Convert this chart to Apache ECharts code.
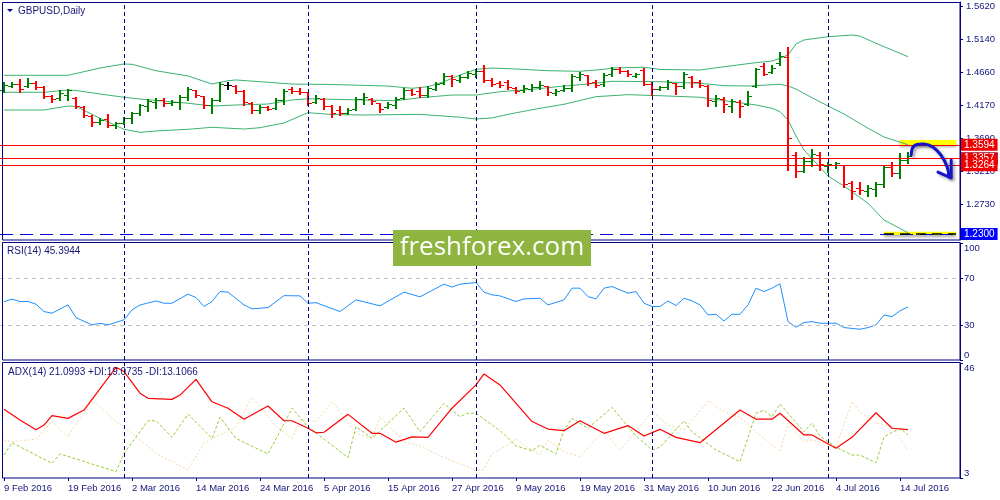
<!DOCTYPE html>
<html><head><meta charset="utf-8">
<script src="https://cdn.jsdelivr.net/npm/echarts@6/dist/echarts.min.js"></script>
<style>html,body{margin:0;padding:0;background:#fff}#c{width:1000px;height:500px}</style>
</head><body><div id="c"></div>
<script>
// ---------- categories (trading days) ----------
const febDays = [9,10,11,12,15,16,17,18,19,22,23,24,25,26,29];
const marDays = [1,2,3,4,7,8,9,10,11,14,15,16,17,18,21,22,23,24,25,28,29,30,31];
const aprDays = [1,4,5,6,7,8,11,12,13,14,15,18,19,20,21,22,25,26,27,28,29];
const mayDays = [2,3,4,5,6,9,10,11,12,13,16,17,18,19,20,23,24,25,26,27,30,31];
const junDays = [1,2,3,6,7,8,9,10,13,14,15,16,17,20,21,22,23,24,27,28,29,30];
const julDays = [1,4,5,6,7,8,11,12,13,14,15];
const monthList = [['Feb',febDays],['Mar',marDays],['Apr',aprDays],['May',mayDays],['Jun',junDays],['Jul',julDays]];
const padSlots = ['p1','p2','p3','p4','p5','p6'];

// ---------- price bars ----------
const open = [1.4397,1.4455,1.4484,1.4455,1.4499,1.4441,1.4310,1.4281,1.4324,1.4281,
1.4150,1.4019,1.3931,1.3975,1.3888,1.3917,1.3990,1.4062,1.4164,1.4222,
1.4252,1.4208,1.4222,1.4295,1.4397,1.4310,1.4179,1.4252,1.4470,1.4455,
1.4383,1.4208,1.4106,1.4150,1.4135,1.4252,1.4412,1.4383,1.4368,1.4222,
1.4266,1.4164,1.4106,1.4062,1.4121,1.4266,1.4266,1.4208,1.4150,1.4179,
1.4281,1.4397,1.4383,1.4324,1.4412,1.4499,1.4601,1.4543,1.4586,1.4630,
1.4674,1.4543,1.4499,1.4514,1.4426,1.4397,1.4412,1.4441,1.4455,1.4353,
1.4397,1.4426,1.4586,1.4615,1.4514,1.4484,1.4630,1.4703,1.4674,1.4601,
1.4688,1.4484,1.4412,1.4441,1.4499,1.4455,1.4586,1.4514,1.4455,1.4237,
1.4266,1.4164,1.4222,1.4193,1.4455,1.4747,1.4659,1.4790,1.4878,1.3451,
1.3218,1.3363,1.3451,1.3291,1.3305,1.3305,1.3043,1.2970,1.2927,1.2956,
1.3029,1.3276,1.3189,1.3378];
const high = [1.4514,1.4514,1.4557,1.4572,1.4528,1.4455,1.4324,1.4397,1.4412,1.4295,
1.4164,1.4033,1.3990,1.4048,1.3931,1.4004,1.4077,1.4193,1.4266,1.4281,
1.4281,1.4252,1.4324,1.4441,1.4400,1.4315,1.4281,1.4514,1.4514,1.4470,
1.4397,1.4222,1.4179,1.4164,1.4281,1.4412,1.4441,1.4426,1.4375,1.4324,
1.4281,1.4179,1.4164,1.4135,1.4295,1.4353,1.4281,1.4215,1.4222,1.4295,
1.4426,1.4412,1.4441,1.4455,1.4514,1.4645,1.4615,1.4615,1.4674,1.4703,
1.4761,1.4572,1.4528,1.4543,1.4441,1.4470,1.4484,1.4528,1.4462,1.4412,
1.4470,1.4630,1.4659,1.4622,1.4543,1.4645,1.4732,1.4732,1.4688,1.4645,
1.4717,1.4514,1.4455,1.4543,1.4506,1.4659,1.4601,1.4543,1.4470,1.4324,
1.4295,1.4266,1.4252,1.4383,1.4717,1.4790,1.4761,1.4950,1.5023,1.3495,
1.3422,1.3538,1.3495,1.3349,1.3349,1.3312,1.3072,1.3058,1.3014,1.3058,
1.3305,1.3349,1.3480,1.3495];
const low = [1.4368,1.4441,1.4368,1.4441,1.4412,1.4281,1.4222,1.4252,1.4252,1.4135,
1.4004,1.3873,1.3902,1.3858,1.3844,1.3902,1.3917,1.4033,1.4091,1.4135,
1.4164,1.4179,1.4121,1.4252,1.4295,1.4135,1.4062,1.4237,1.4412,1.4353,
1.4179,1.4062,1.4062,1.4106,1.4121,1.4193,1.4353,1.4339,1.4179,1.4208,
1.4121,1.4004,1.4033,1.4048,1.4106,1.4193,1.4193,1.4077,1.4135,1.4135,
1.4266,1.4324,1.4295,1.4295,1.4397,1.4484,1.4455,1.4514,1.4572,1.4586,
1.4514,1.4455,1.4441,1.4412,1.4353,1.4368,1.4383,1.4412,1.4324,1.4324,
1.4383,1.4383,1.4543,1.4470,1.4441,1.4455,1.4601,1.4645,1.4601,1.4586,
1.4470,1.4324,1.4397,1.4412,1.4339,1.4426,1.4441,1.4441,1.4164,1.4164,
1.4077,1.4077,1.4004,1.4179,1.4441,1.4615,1.4645,1.4761,1.3232,1.3131,
1.3203,1.3291,1.3232,1.3203,1.3262,1.2985,1.2810,1.2883,1.2854,1.2854,
1.2985,1.3145,1.3116,1.3334];
const close = [1.4470,1.4484,1.4412,1.4499,1.4441,1.4310,1.4266,1.4353,1.4397,1.4164,
1.4033,1.3931,1.3960,1.3888,1.3917,1.3990,1.4062,1.4179,1.4237,1.4252,
1.4208,1.4222,1.4295,1.4412,1.4324,1.4179,1.4252,1.4484,1.4470,1.4383,
1.4222,1.4106,1.4150,1.4121,1.4252,1.4383,1.4383,1.4368,1.4208,1.4281,
1.4164,1.4062,1.4062,1.4106,1.4266,1.4295,1.4237,1.4121,1.4193,1.4266,
1.4397,1.4339,1.4324,1.4426,1.4484,1.4601,1.4557,1.4586,1.4645,1.4674,
1.4543,1.4484,1.4470,1.4441,1.4383,1.4426,1.4441,1.4470,1.4368,1.4383,
1.4426,1.4601,1.4630,1.4499,1.4470,1.4615,1.4703,1.4674,1.4630,1.4630,
1.4484,1.4412,1.4441,1.4514,1.4455,1.4630,1.4514,1.4470,1.4252,1.4281,
1.4193,1.4237,1.4164,1.4310,1.4703,1.4630,1.4717,1.4892,1.3698,1.3218,
1.3363,1.3465,1.3320,1.3320,1.3334,1.3029,1.2927,1.2941,1.2970,1.3029,
1.3276,1.3189,1.3378,1.3437];

// ---------- Bollinger bands [barIndex, price] ----------
const bbUpper = [[0,1.4611],[8,1.4611],[12,1.4717],[15,1.4776],[16,1.4771],[19,1.4678],[23,1.4601],[26,1.4484],[28,1.4532],[29,1.4543],[36,1.4484],[41,1.4477],[48,1.4455],[51,1.4422],[53,1.4445],[55,1.4518],[57,1.4615],[59,1.4698],[61,1.4717],[64,1.4703],[68,1.4678],[72,1.4669],[75,1.4698],[76,1.4717],[80,1.4728],[82,1.4696],[87,1.4688],[90,1.4736],[94,1.4795],[96,1.4819],[97,1.4859],[98,1.4907],[99,1.5067],[100,1.5125],[103,1.5173],[106,1.5198],[107,1.5183],[109,1.5077],[113,1.4882]];
const bbMiddle = [[0,1.4364],[5,1.4364],[8,1.4397],[9,1.4390],[12,1.4339],[15,1.4291],[17,1.4266],[23,1.4204],[26,1.4164],[29,1.4179],[33,1.4193],[36,1.4252],[38,1.4270],[41,1.4262],[49,1.4241],[52,1.4285],[56,1.4324],[59,1.4324],[62,1.4372],[66,1.4407],[70,1.4455],[73,1.4484],[76,1.4524],[82,1.4518],[87,1.4495],[90,1.4460],[93,1.4455],[97,1.4480],[98,1.4455],[99,1.4412],[100,1.4346],[103,1.4164],[105,1.4048],[108,1.3840],[110,1.3713],[113,1.3600]];
const bbLower = [[0,1.4106],[5,1.4106],[8,1.4164],[9,1.4157],[12,1.3985],[15,1.3825],[17,1.3781],[19,1.3800],[23,1.3825],[26,1.3854],[30,1.3829],[32,1.3848],[35,1.3917],[38,1.4067],[41,1.4040],[45,1.4033],[52,1.4043],[57,1.4000],[59,1.3975],[61,1.3990],[63,1.4043],[67,1.4131],[70,1.4189],[74,1.4300],[78,1.4329],[82,1.4314],[87,1.4291],[94,1.4179],[96,1.4131],[97,1.4081],[98,1.3960],[99,1.3727],[100,1.3524],[103,1.3145],[105,1.2999],[108,1.2748],[110,1.2505],[113,1.2320]];

// ---------- RSI(14) ----------
const rsi = [[0,49.9],[1,52],[2,50],[3,50],[4,47.7],[5,41.4],[6,40],[8,47.1],[9,36.2],[11,30],[12,31.4],[13,30],[15,34.3],[16,42.8],[17,47],[19,50.5],[20,48.5],[21,48.5],[23,56.3],[24,53.4],[25,45.7],[26,50],[27,58.5],[28,58],[30,47.1],[31,43.7],[33,44.8],[35,55],[37,54.8],[38,48.5],[39,49],[42,41.4],[44,51.4],[47,46.3],[50,58],[52,54],[55,64.8],[56,62.3],[57,64.8],[59,66.2],[60,58],[61,55.7],[62,54.8],[64,50],[65,52.2],[67,52.8],[68,47.1],[70,51.4],[71,61.4],[72,61.4],[73,54.2],[74,52.2],[75,61.4],[76,62.8],[78,57.1],[79,58.5],[80,48.5],[81,45.7],[82,45.7],[83,50.5],[84,46.5],[85,52.8],[86,50.5],[87,47.1],[88,38.5],[89,39.1],[90,33.4],[91,39.1],[92,39.1],[93,47.1],[94,61.4],[95,58.5],[96,61.4],[97,65.1],[98,32.8],[99,28],[100,32],[101,32.8],[102,31.4],[104,31.4],[105,27.7],[107,26.3],[108,27.7],[109,30],[110,38.5],[111,37.1],[112,42],[113,45.4]];
const rsiLevels = [70, 30];

// ---------- ADX(14) ----------
const adx = [[0,28.7],[2,24.7],[4,21],[5,22.8],[6,26.3],[8,25.3],[10,28.4],[14,44.4],[15,42.8],[17,34.7],[18,32.8],[21,32.4],[22,34],[24,39.9],[26,31.5],[28,29.1],[30,25],[33,29.9],[35,24.4],[36,24.4],[38,21.6],[39,19.9],[40,20.1],[43,26.8],[46,19.7],[47,19.7],[49,16.4],[51,18.4],[53,18.2],[56,29.1],[59,37.8],[60,41.9],[62,37.8],[66,24.1],[68,21.3],[70,20.7],[72,24.4],[75,19.7],[78,22.6],[80,18.7],[82,21.2],[84,18.2],[87,16.2],[92,28.4],[94,25],[96,25],[97,27.2],[100,19.1],[101,19.1],[104,14.1],[106,18.2],[109,27.4],[111,21.6],[113,21.1]];
const plusDI = [[0,11.6],[1,16.2],[6,8.5],[7,12],[14,5.4],[15,12.2],[18,24.4],[19,24.4],[21,18.2],[23,26.9],[26,17.8],[27,25.7],[29,17.8],[33,12],[36,29.1],[38,22.2],[43,10.6],[44,22.2],[46,17.8],[50,29.1],[52,20.3],[55,30.9],[57,25.9],[58,27.2],[59,27.2],[62,20.7],[64,15],[66,13.2],[67,15.3],[69,12],[70,20.9],[71,25.3],[73,21.6],[76,29.4],[79,18.7],[81,13.5],[82,14.5],[85,24.4],[86,20.3],[89,13.5],[92,9.1],[94,27.2],[95,28.4],[96,25.9],[97,30.7],[100,20.3],[101,23.5],[102,18.7],[104,14.5],[106,11.6],[107,11.6],[109,8.7],[110,18.4],[112,21.6],[113,19.1]];
const minusDI = [[0,17.2],[1,16.6],[4,17.5],[6,24.1],[8,18.4],[11,32.2],[14,24.1],[15,22.2],[19,12.2],[23,6],[25,16],[29,22.2],[31,33.2],[32,29.7],[34,22.2],[36,17.8],[37,24.7],[39,24.1],[41,31.5],[44,19.7],[46,17.8],[47,25.9],[50,16.6],[52,15],[55,10.6],[59,6],[60,6],[61,12.2],[62,13.5],[64,17.5],[65,15.3],[67,11.6],[68,17.2],[70,12.8],[72,11],[75,20.9],[77,13.2],[81,27.8],[83,22.8],[85,20.9],[88,31.9],[90,27.8],[92,25.7],[94,20.3],[97,12.8],[98,23.5],[100,16.6],[101,17.2],[104,14.7],[106,31.5],[107,27.8],[109,23.5],[111,22.2],[113,13.2]];

// ---------- axis ticks / levels / texts ----------
const priceTicks = [1.5620,1.5140,1.4660,1.4170,1.3690,1.3210,1.2730,1.2250];
const rsiTicks = [0,30,70,100];
const adxTicks = [3,46];
const priceRange = [1.22134, 1.56782];
const levelValues = [1.3594, 1.3437, 1.3357, 1.3264, 1.2300];
const highlightBands = [[112,1.3669,1.3596],[110,1.2334,1.2286]];
const arrowPath = [[113.4,1.3451],[113.75,1.3582],[115,1.3611],[116.1,1.3567],[117.1,1.3451],[117.9,1.3276],[118.1,1.3131]];
const arrowHead = [[116.75,1.3203],[118.4,1.3116],[118.4,1.3378]];
const titleText = 'GBPUSD,Daily';
const rsiText = 'RSI(14) 45.3944';
const adxText = 'ADX(14) 21.0993 +DI:19.0735 -DI:13.1066';
const watermarkText = 'freshforex.com';

// ---------- build ----------
const dates = [];
monthList.forEach(([m, days]) => days.forEach(d => dates.push(d + ' ' + m + ' 2016')));
const categories = dates.concat(padSlots);
const monthStartIdx = [];
let acc = 0;
monthList.forEach(([m, days], k) => { if (k > 0) monthStartIdx.push(acc); acc += days.length; });
const ohlc = dates.map((d, i) => [i, open[i], high[i], low[i], close[i]]);
const lastIdx = categories.length - 1;

const NAVY = '#000080';
const TXT = '#15157a';
const FONT = 'Liberation Sans';
const FS = 9.5;

const separators = {
  symbol: ['none','none'], silent: true, animation: false,
  label: {show: false},
  lineStyle: {color: NAVY, type: [4,3], width: 1},
  data: monthStartIdx.map(i => ({xAxis: i}))
};

const levelStyles = [
  {line: '#ff0000', type: 'solid', bg: '#ee0000'},
  {line: '#d0d0d0', type: 'solid', bg: NAVY},
  {line: '#ff0000', type: 'solid', bg: '#ee0000'},
  {line: '#ff0000', type: 'solid', bg: '#ee0000'},
  {line: '#0000e0', type: [13,7], bg: '#0000ff'}
];

function ohlcItem(params, api) {
  const i = api.value(0);
  const o = api.value(1), h = api.value(2), l = api.value(3), c = api.value(4);
  const ph = api.coord([i, h]), pl = api.coord([i, l]), po = api.coord([i, o]), pc = api.coord([i, c]);
  const x = Math.round(ph[0]);
  const color = c > o ? '#008000' : (c < o ? '#ff0000' : '#000000');
  const yo = Math.round(po[1]) + 0.5, yc = Math.round(pc[1]) + 0.5;
  return {type: 'group', children: [
    {type: 'line', shape: {x1: x, y1: Math.round(ph[1]), x2: x, y2: Math.round(pl[1]) + 1}, style: {stroke: color, lineWidth: 2}},
    {type: 'line', shape: {x1: x - 4, y1: yo, x2: x, y2: yo}, style: {stroke: color, lineWidth: 1}},
    {type: 'line', shape: {x1: x, y1: yc, x2: x + 4, y2: yc}, style: {stroke: color, lineWidth: 1}}
  ]};
}

const chart = echarts.init(document.getElementById('c'));
const axisText = {color: TXT, fontSize: FS, fontFamily: FONT};

const option = {
  animation: false,
  backgroundColor: '#ffffff',
  grid: [
    {left: -1, width: 961, top: 2, height: 238},
    {left: -1, width: 961, top: 243, height: 117},
    {left: -1, width: 961, top: 363, height: 115}
  ],
  xAxis: [0,1,2].map(g => ({
    type: 'category', gridIndex: g, data: categories, boundaryGap: true,
    axisLine: {show: false},
    axisTick: {show: g === 2, interval: 7, alignWithLabel: true, length: 3, lineStyle: {color: NAVY}},
    axisLabel: Object.assign({show: g === 2, interval: 7, align: 'left', margin: 5}, axisText),
    splitLine: {show: false}
  })),
  yAxis: [
    {type: 'value', gridIndex: 0, position: 'right', min: priceRange[0], max: priceRange[1],
     axisLine: {show: true, lineStyle: {color: NAVY}},
     axisTick: {show: true, customValues: priceTicks, length: 3, lineStyle: {color: NAVY}},
     axisLabel: Object.assign({customValues: priceTicks, margin: 6, formatter: v => Number(v).toFixed(4)}, axisText),
     splitLine: {show: false}},
    {type: 'value', gridIndex: 1, position: 'right', min: 0, max: 100,
     axisLine: {show: true, lineStyle: {color: NAVY}},
     axisTick: {show: true, customValues: rsiTicks, length: 3, lineStyle: {color: NAVY}},
     axisLabel: Object.assign({customValues: rsiTicks, margin: 4, verticalAlignMinLabel: 'bottom', verticalAlignMaxLabel: 'top'}, axisText),
     splitLine: {show: false}},
    {type: 'value', gridIndex: 2, position: 'right', min: adxTicks[0], max: adxTicks[1],
     axisLine: {show: true, lineStyle: {color: NAVY}},
     axisTick: {show: true, customValues: adxTicks, length: 3, lineStyle: {color: NAVY}},
     axisLabel: Object.assign({customValues: adxTicks, margin: 4, verticalAlignMinLabel: 'bottom', verticalAlignMaxLabel: 'top'}, axisText),
     splitLine: {show: false}}
  ],
  series: [
    {type: 'line', xAxisIndex: 0, yAxisIndex: 0, data: bbLower, symbol: 'none', z: 2,
     lineStyle: {color: '#3cb371', width: 1}, markLine: separators},
    {type: 'line', xAxisIndex: 0, yAxisIndex: 0, data: bbMiddle, symbol: 'none', z: 2,
     lineStyle: {color: '#3cb371', width: 1},
     markArea: {silent: true, itemStyle: {color: '#ffff00', shadowColor: 'rgba(0,0,0,0.35)', shadowBlur: 3, shadowOffsetY: 2},
       data: highlightBands.map(b => [{xAxis: b[0], yAxis: b[1]}, {xAxis: lastIdx, yAxis: b[2]}])}},
    {type: 'line', xAxisIndex: 0, yAxisIndex: 0, data: bbUpper, symbol: 'none', z: 2,
     lineStyle: {color: '#3cb371', width: 1}},
    {type: 'custom', xAxisIndex: 0, yAxisIndex: 0, data: ohlc, renderItem: ohlcItem, z: 3,
     encode: {x: 0, y: [1,2,3,4]}},
    {type: 'line', xAxisIndex: 0, yAxisIndex: 0, data: [], symbol: 'none', z: 5,
     markLine: {symbol: ['none','none'], silent: true, animation: false,
       data: levelValues.map((v, k) => ({
         yAxis: v,
         lineStyle: {color: levelStyles[k].line, type: levelStyles[k].type, width: 1},
         label: {show: true, position: 'end', distance: 1, formatter: () => v.toFixed(4),
           color: '#ffffff', backgroundColor: levelStyles[k].bg, padding: [1,3,0,3],
           fontSize: FS + 0.5, lineHeight: 11, fontFamily: FONT}
       })).concat([[{xAxis: highlightBands[1][0], yAxis: levelValues[4], lineStyle: {color: '#000000', type: [10,6], width: 1.5}, label: {show: false}},
                    {xAxis: lastIdx, yAxis: levelValues[4]}]])}},
    {type: 'line', xAxisIndex: 1, yAxisIndex: 1, data: rsi, symbol: 'none', z: 3,
     lineStyle: {color: '#1e90ff', width: 1},
     markLine: {symbol: ['none','none'], silent: true, animation: false, label: {show: false},
       data: rsiLevels.map(v => ({yAxis: v, lineStyle: {color: '#c0c0c0', type: [4,4], width: 1}}))
         .concat(monthStartIdx.map(i => ({xAxis: i, lineStyle: {color: NAVY, type: [4,3], width: 1}})))}},
    {type: 'line', xAxisIndex: 2, yAxisIndex: 2, data: minusDI, symbol: 'none', z: 2,
     lineStyle: {color: '#f7d7a6', width: 1, type: [2,2]}, markLine: separators},
    {type: 'line', xAxisIndex: 2, yAxisIndex: 2, data: plusDI, symbol: 'none', z: 2,
     lineStyle: {color: '#9acd32', width: 1, type: [3,2]}},
    {type: 'line', xAxisIndex: 2, yAxisIndex: 2, data: adx, symbol: 'none', z: 3,
     lineStyle: {color: '#ff0000', width: 1.2}}
  ]
};
chart.setOption(option);

function toPx(ix, price) {
  const a = chart.convertToPixel({xAxisIndex: 0, yAxisIndex: 0}, [0, price]);
  const b = chart.convertToPixel({xAxisIndex: 0, yAxisIndex: 0}, [1, price]);
  return [a[0] + ix * (b[0] - a[0]), a[1]];
}
const arrowStyle = {stroke: '#1414c8', lineWidth: 3, fill: null, lineCap: 'round', lineJoin: 'round',
  shadowColor: 'rgba(0,0,0,0.35)', shadowBlur: 3, shadowOffsetX: 2, shadowOffsetY: 2};

chart.setOption({
  graphic: [
    {type: 'rect', silent: true, z: 50, shape: {x: 2.5, y: 2.5, width: 957.5, height: 237.5}, style: {fill: null, stroke: NAVY, lineWidth: 1}},
    {type: 'rect', silent: true, z: 50, shape: {x: 2.5, y: 242.5, width: 957.5, height: 117.5}, style: {fill: null, stroke: NAVY, lineWidth: 1}},
    {type: 'rect', silent: true, z: 50, shape: {x: 2.5, y: 362.5, width: 957.5, height: 115.5}, style: {fill: null, stroke: NAVY, lineWidth: 1}},
    {type: 'polygon', silent: true, z: 50, shape: {points: [[7,9],[13,9],[10,12]]}, style: {fill: NAVY}},
    {type: 'text', silent: true, z: 50, style: {text: titleText, x: 18, y: 11, verticalAlign: 'middle', fill: TXT, fontSize: FS + 0.5, fontFamily: FONT}},
    {type: 'text', silent: true, z: 50, style: {text: rsiText, x: 7, y: 251, verticalAlign: 'middle', fill: TXT, fontSize: FS + 0.5, fontFamily: FONT}},
    {type: 'text', silent: true, z: 50, style: {text: adxText, x: 8, y: 372, verticalAlign: 'middle', fill: TXT, fontSize: FS + 0.5, fontFamily: FONT}},
    {type: 'polyline', silent: true, z: 60, shape: {points: arrowPath.map(p => toPx(p[0], p[1])), smooth: 0.4}, style: arrowStyle},
    {type: 'polyline', silent: true, z: 60, shape: {points: arrowHead.map(p => toPx(p[0], p[1]))}, style: arrowStyle},
    {type: 'group', silent: true, z: 100, children: [
      {type: 'rect', z: 100, shape: {x: 393, y: 230, width: 198, height: 36}, style: {fill: '#8db540'}},
      {type: 'text', z: 101, style: {text: watermarkText, x: 492, y: 248, align: 'center', verticalAlign: 'middle', fill: '#ffffff', fontSize: 26, fontFamily: 'Open Sans'}}
    ]}
  ]
});
</script>
</body></html>
